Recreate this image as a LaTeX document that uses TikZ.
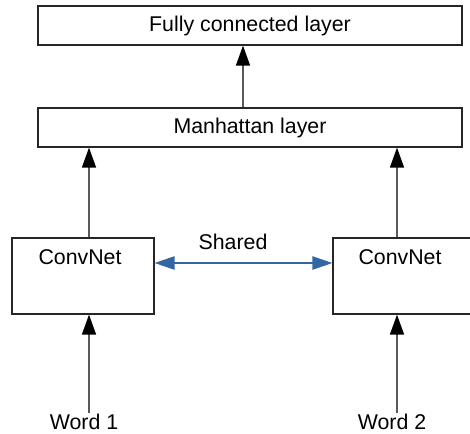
\documentclass[tikz,border=0pt]{standalone}
\usepackage{fontspec}
\setmainfont{Liberation Sans}
\usetikzlibrary{arrows.meta}

\definecolor{sharedblue}{RGB}{52,101,164}

\begin{document}
\begin{tikzpicture}[x=0.75pt,y=-0.75pt,
    every node/.style={font=\fontsize{16}{19}\selectfont},
    layer/.style={draw=black!85,line width=0.9pt,minimum width=318pt,minimum height=29.25pt,inner sep=0pt},
    conv/.style={draw=black!85,line width=0.9pt,minimum width=106.5pt,minimum height=57pt,inner sep=0pt},
    up/.style={draw=black!65,line width=1pt,-{Triangle[length=15pt,width=10.5pt,color=black]}},
    shared/.style={draw=sharedblue,line width=1pt,{Triangle[length=15pt,width=10pt]}-{Triangle[length=15pt,width=10pt]}}]
    \useasboundingbox (0,0) rectangle (470,434);

    \node[layer] (fc) at (250,25.5) {Fully connected layer};
    \node[layer] (manh) at (250,127.5) {Manhattan layer};

    \node[conv] (convA) at (83,276) {};
    \node[conv] (convB) at (404,276) {};
    \node (convAtxt) at (80,257) {ConvNet};
    \node (convBtxt) at (400,257) {ConvNet};

    \node (word1) at (84,422) {Word 1};
    \node (word2) at (392,422) {Word 2};
    \node (sharedtxt) at (233,242) {Shared};

    \coordinate (mid) at (243,0);
    \coordinate (colA) at (89,0);
    \coordinate (colB) at (397,0);

    \draw[up] (manh.north -| mid) -- (fc.south -| mid);
    \draw[up] (convA.north -| colA) -- (manh.south -| colA);
    \draw[up] (convB.north -| colB) -- (manh.south -| colB);
    \draw[up] ([yshift=-3pt]word1.north -| colA) -- (convA.south -| colA);
    \draw[up] ([yshift=-3pt]word2.north -| colB) -- (convB.south -| colB);

    \draw[shared] ([yshift=9.75pt]convA.east) -- ([yshift=9.75pt]convB.west);
\end{tikzpicture}
\end{document}
